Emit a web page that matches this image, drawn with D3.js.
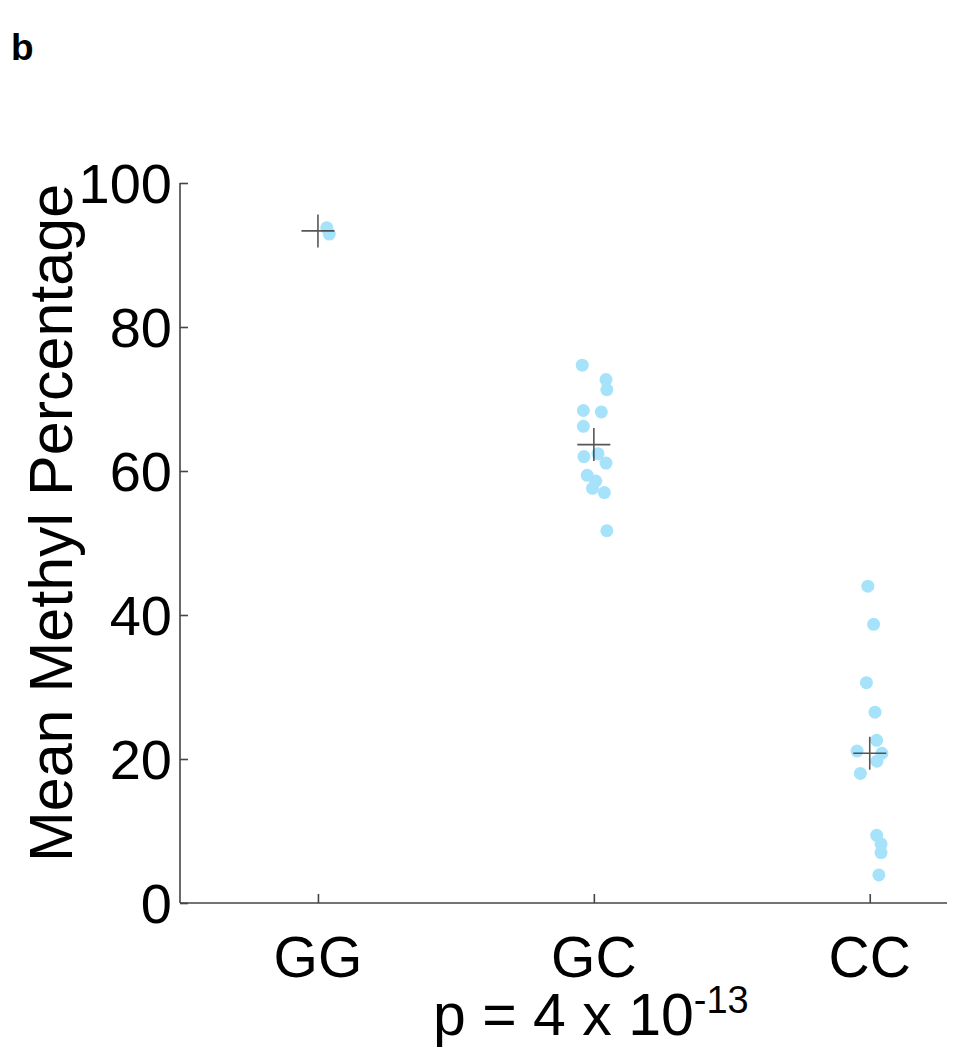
<!DOCTYPE html>
<html>
<head>
<meta charset="utf-8">
<script src="https://cdn.jsdelivr.net/npm/d3@7"></script>
<style>
  body { margin: 0; background: #fff; }
  svg text { font-family: Arial, "Liberation Sans", sans-serif; fill: #000; }
</style>
</head>
<body>
<div id="chart"></div>
<script>
// genotype groups, x axis
const categories = ["GG", "GC", "CC"];

// mean methyl percentage per sample, one list per genotype
const valuesGG = [93.8, 92.9];
const valuesGC = [74.7, 72.7, 71.3, 68.4, 68.2, 66.2, 62.0, 62.4, 61.1, 59.4, 58.6, 57.6, 57.0, 51.7];
const valuesCC = [44.0, 38.7, 30.6, 26.5, 22.6, 21.1, 20.8, 19.7, 18.0, 9.4, 8.2, 7.0, 3.9];

// horizontal jitter of each sample (fraction of one category step)
const jitterGG = [0.032, 0.041];
const jitterGC = [-0.042, 0.044, 0.047, -0.038, 0.027, -0.038, -0.036, 0.015, 0.044, -0.024, 0.007, -0.005, 0.038, 0.047];
const jitterCC = [-0.007, 0.014, -0.012, 0.019, 0.025, -0.046, 0.044, 0.026, -0.034, 0.025, 0.041, 0.041, 0.033];

const yTicks = [0, 20, 40, 60, 80, 100];
const yLabel = "Mean Methyl Percentage";
const pText = "p = 4 x 10";
const pExp = "-13";

const groups = [
    {name: categories[0], values: valuesGG, jitter: jitterGG},
    {name: categories[1], values: valuesGC, jitter: jitterGC},
    {name: categories[2], values: valuesCC, jitter: jitterCC}
];

const W = 961, H = 1052;
const svg = d3.select("#chart").append("svg")
    .attr("width", W).attr("height", H);

// plot box
const boxL = 180, boxR = 947, boxT = 183, boxB = 903;

const x = d3.scaleLinear().domain([0.5, 3.28]).range([boxL, boxR]);
const y = d3.scaleLinear().domain([0, 100]).range([boxB, boxT]);

const axisColor = "#444";

// panel letter
svg.append("text")
    .attr("x", 11).attr("y", 60)
    .attr("font-size", 37).attr("font-weight", "bold")
    .text("b");

// x axis: baseline + inward ticks
const xAxis = svg.append("g").attr("transform", "translate(0," + boxB + ")")
    .call(d3.axisBottom(x).tickValues([1, 2, 3]).tickSize(-9).tickFormat(""));
xAxis.select(".domain").attr("d", "M" + boxL + ",0H" + boxR);
xAxis.selectAll("path, line").attr("stroke", axisColor).attr("stroke-width", 1.6);

// x tick labels
svg.selectAll(".xlab").data(categories).join("text")
    .attr("class", "xlab")
    .attr("x", (d, i) => x(i + 1))
    .attr("y", 977)
    .attr("text-anchor", "middle")
    .attr("font-size", 57)
    .text(d => d);

// y axis: spine + inward ticks
const yAxis = svg.append("g").attr("transform", "translate(" + boxL + ",0)")
    .call(d3.axisLeft(y).tickValues(yTicks).tickSize(-8).tickFormat(""));
yAxis.select(".domain").attr("d", "M0," + boxT + "V" + boxB);
yAxis.selectAll("path, line").attr("stroke", axisColor).attr("stroke-width", 1.6);

svg.selectAll(".ylab").data(yTicks).join("text")
    .attr("class", "ylab")
    .attr("x", 172)
    .attr("y", d => y(d))
    .attr("dy", "0.36em")
    .attr("text-anchor", "end")
    .attr("font-size", 56)
    .text(d => d);

// y axis title
svg.append("text")
    .attr("transform", "translate(72," + ((boxT + boxB) / 2 - 20) + ") rotate(-90)")
    .attr("text-anchor", "middle")
    .attr("font-size", 61)
    .text(yLabel);

// sample dots
const step = x(2) - x(1);
groups.forEach((g, gi) => {
    svg.append("g").selectAll("circle").data(g.values).join("circle")
        .attr("cx", (d, i) => x(gi + 1) + g.jitter[i] * step)
        .attr("cy", d => y(d))
        .attr("r", 6.5)
        .attr("fill", "#a6e3fb");
});

// mean crosses
const arm = 16.5;
groups.forEach((g, gi) => {
    let cx = x(gi + 1), cy = y(d3.mean(g.values));
    svg.append("path")
        .attr("d", "M" + (cx - arm) + "," + cy + "H" + (cx + arm) +
                   "M" + cx + "," + (cy - arm) + "V" + (cy + arm))
        .attr("stroke", "#3a3a3a").attr("stroke-opacity", 0.85)
        .attr("stroke-width", 1.6).attr("fill", "none");
});

// p value line under the axis
const pt = svg.append("text")
    .attr("x", 433).attr("y", 1035)
    .attr("font-size", 59);
pt.append("tspan").text(pText);
pt.append("tspan").attr("font-size", 38).attr("dy", -22).text(pExp);
</script>
</body>
</html>
